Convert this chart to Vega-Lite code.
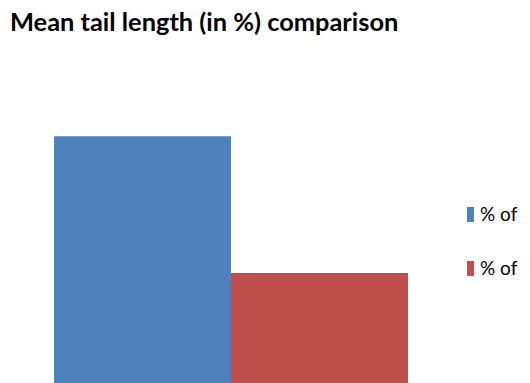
{
  "$schema": "https://vega.github.io/schema/vega-lite/v6.json",
  "width": 354,
  "height": 330,
  "autosize": {"type": "none"},
  "padding": {"left": 54, "top": 53, "right": 122, "bottom": 0},
  "background": "white",
  "title": {
    "text": "Mean tail length (in %) comparison",
    "anchor": "start",
    "font": "Lato",
    "fontWeight": "bold",
    "fontSize": 25.4,
    "color": "#000000",
    "dx": -44,
    "offset": 17
  },
  "data": {
    "values": [
      {"group": "% of tail DNA (control)", "value": 7.48},
      {"group": "% of tail DNA (treated)", "value": 3.33}
    ]
  },
  "mark": {"type": "bar"},
  "encoding": {
    "x": {
      "field": "group",
      "type": "nominal",
      "axis": null,
      "sort": null,
      "scale": {"paddingInner": 0, "paddingOuter": 0}
    },
    "y": {
      "field": "value",
      "type": "quantitative",
      "axis": null,
      "scale": {"domain": [0, 10], "nice": false}
    },
    "color": {
      "field": "group",
      "type": "nominal",
      "sort": null,
      "scale": {"range": ["#4F81BD", "#C0504D"]},
      "legend": {
        "title": null,
        "orient": "none",
        "legendX": 407,
        "legendY": 152,
        "padding": 0,
        "symbolType": "M-0.47,-1L0.47,-1L0.47,1L-0.47,1Z",
        "symbolSize": 225,
        "symbolStrokeWidth": 0,
        "labelExpr": "slice(datum.label, 0, 4)",
        "labelFont": "Lato",
        "labelFontSize": 19,
        "labelColor": "#000000",
        "labelOffset": 0,
        "labelLimit": 60,
        "rowPadding": 34
      }
    }
  },
  "config": {"view": {"stroke": null}}
}
